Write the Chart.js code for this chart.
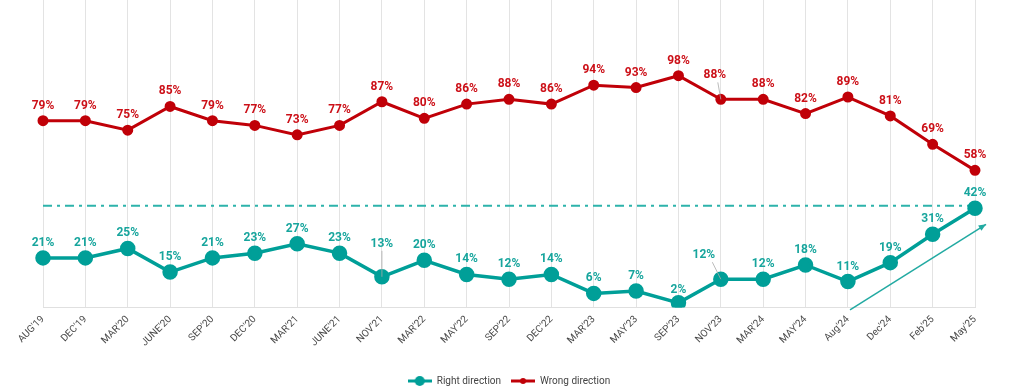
<!DOCTYPE html>
<html>
<head>
<meta charset="utf-8">
<script src="https://cdn.jsdelivr.net/npm/chart.js@4/dist/chart.umd.min.js"></script>
<style>
  html, body { margin: 0; padding: 0; background: #fff; }
  #wrap { width: 1024px; height: 390px; }
</style>
</head>
<body>
<div id="wrap"><canvas id="myChart"></canvas></div>
<script>
const waves = ["AUG'19", "DEC'19", "MAR'20", "JUNE'20", "SEP'20", "DEC'20", "MAR'21", "JUNE'21", "NOV'21",
  "MAR'22", "MAY'22", "SEP'22", "DEC'22", "MAR'23", "MAY'23", "SEP'23", "NOV'23", "MAR'24", "MAY'24",
  "Aug'24", "Dec'24", "Feb'25", "May'25"];
const rightDirection = [21, 21, 25, 15, 21, 23, 27, 23, 13, 20, 14, 12, 14, 6, 7, 2, 12, 12, 18, 11, 19, 31, 42];
const wrongDirection = [79, 79, 75, 85, 79, 77, 73, 77, 87, 80, 86, 88, 86, 94, 93, 98, 88, 88, 82, 89, 81, 69, 58];
const refLevel = 43;

const TEAL = '#009f98';
const RED = '#c00008';

// legend markers: line with a dot
function marker(color, r) {
  const c = document.createElement('canvas');
  c.width = 24; c.height = 12;
  const g = c.getContext('2d');
  g.strokeStyle = color; g.lineWidth = 3;
  g.beginPath(); g.moveTo(0, 6); g.lineTo(24, 6); g.stroke();
  g.fillStyle = color;
  g.beginPath(); g.arc(12, 6, r, 0, Math.PI * 2); g.fill();
  return c;
}

// label offsets for the crowded points (dx, dy, leader line)
const labelShift = {
  0: { 8: [0, -33, true], 15: [0, -13], 16: [-17, -24, true] },
  1: { 16: [-6, -24, true] }
};

const extras = {
  id: 'extras',
  beforeDatasetsDraw(chart) {
    const { ctx, scales } = chart;
    const y = scales.y.getPixelForValue(refLevel);
    ctx.save();
    ctx.strokeStyle = '#2db3ab';
    ctx.lineWidth = 2;
    ctx.setLineDash([9, 5, 3, 5]);
    ctx.beginPath();
    ctx.moveTo(scales.x.getPixelForValue(0), y);
    ctx.lineTo(scales.x.getPixelForValue(waves.length - 1), y);
    ctx.stroke();
    ctx.restore();
  },
  afterDatasetsDraw(chart) {
    const { ctx, scales } = chart;
    ctx.save();
    ctx.font = 'bold 12px Roboto';
    ctx.textAlign = 'center';
    ctx.textBaseline = 'middle';
    chart.data.datasets.forEach((ds, di) => {
      const meta = chart.getDatasetMeta(di);
      meta.data.forEach((pt, i) => {
        let dx = 0, dy = -15, leader = false;
        const s = labelShift[di] && labelShift[di][i];
        if (s) { dx = s[0]; dy = s[1]; leader = !!s[2]; }
        if (leader) {
          ctx.strokeStyle = '#aaaaaa';
          ctx.lineWidth = 0.8;
          ctx.beginPath();
          ctx.moveTo(pt.x + dx * 0.5, pt.y + dy + 7);
          ctx.lineTo(pt.x, pt.y);
          ctx.stroke();
        }
        ctx.fillStyle = ds.labelColor;
        ctx.fillText(ds.data[i] + '%', pt.x + dx, pt.y + dy);
      });
    });
    // trend arrow
    const x1 = scales.x.getPixelForValue(19.05), y1 = scales.y.getPixelForValue(-1);
    const x2 = scales.x.getPixelForValue(22.26), y2 = scales.y.getPixelForValue(35.2);
    const a = Math.atan2(y2 - y1, x2 - x1);
    ctx.strokeStyle = '#22aaa2';
    ctx.fillStyle = '#22aaa2';
    ctx.lineWidth = 1.5;
    ctx.beginPath(); ctx.moveTo(x1, y1); ctx.lineTo(x2, y2); ctx.stroke();
    ctx.beginPath();
    ctx.moveTo(x2, y2);
    ctx.lineTo(x2 - 8 * Math.cos(a - 0.4), y2 - 8 * Math.sin(a - 0.4));
    ctx.lineTo(x2 - 8 * Math.cos(a + 0.4), y2 - 8 * Math.sin(a + 0.4));
    ctx.closePath(); ctx.fill();
    ctx.restore();
  }
};

const ctx = document.getElementById('myChart');
new Chart(ctx, {
  type: 'line',
  data: {
    labels: waves,
    datasets: [{
      label: 'Right direction',
      data: rightDirection,
      borderColor: TEAL,
      backgroundColor: TEAL,
      borderWidth: 3.5,
      pointRadius: 6,
      pointHoverRadius: 6,
      labelColor: '#17a59d'
    },
    {
      label: 'Wrong direction',
      data: wrongDirection,
      borderColor: RED,
      backgroundColor: RED,
      borderWidth: 3,
      pointRadius: 4,
      pointHoverRadius: 4,
      labelColor: '#cc1018'
    }]
  },
  options: {
    responsive: true,
    maintainAspectRatio: false,
    animation: false,
    layout: { autoPadding: false, padding: { left: 43, right: 49, top: 0, bottom: -6 } },
    elements: { line: { tension: 0 } },
    scales: {
      x: {
        grid: { color: '#e3e3e3', drawTicks: false },
        border: { color: '#e0e0e0' },
        ticks: {
          autoSkip: false, maxRotation: 45, minRotation: 45, padding: 6,
          color: '#4a4a4a', font: { family: 'Roboto', size: 10 }
        }
      },
      y: { display: false, min: 0, max: 130 }
    },
    plugins: {
      legend: {
        position: 'bottom',
        title: { display: true, text: '', font: { size: 1 }, padding: { top: 10, bottom: 0 } },
        labels: {
          usePointStyle: true,
          pointStyleWidth: 24,
          color: '#444',
          font: { family: 'Roboto', size: 10 },
          padding: 10,
          generateLabels(chart) {
            return chart.data.datasets.map((ds, i) => ({
              text: ds.label,
              pointStyle: marker(ds.borderColor, i === 0 ? 5 : 3),
              fontColor: '#444',
              lineWidth: 0,
              strokeStyle: 'transparent',
              fillStyle: ds.borderColor,
              datasetIndex: i
            }));
          }
        }
      },
      tooltip: { enabled: false }
    }
  },
  plugins: [extras]
});
</script>
</body>
</html>
